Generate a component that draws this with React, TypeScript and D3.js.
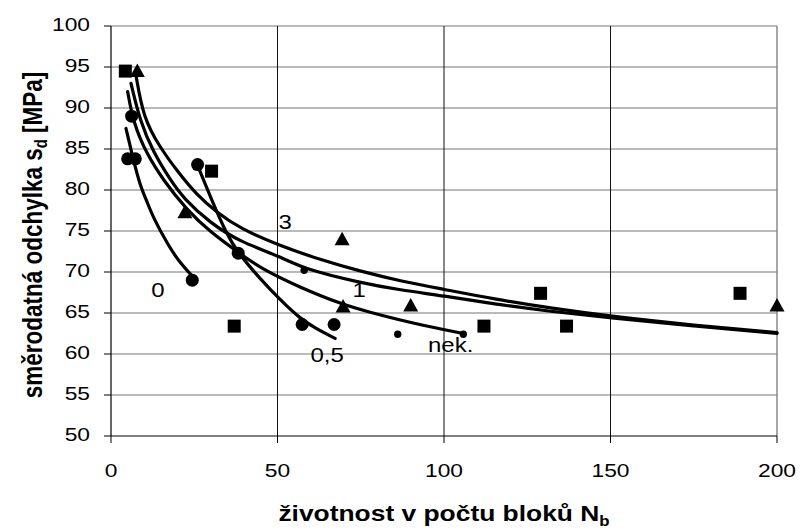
import React from "react";
import * as d3 from "d3";

// ---- data ----
const xTicks = [0, 50, 100, 150, 200];
const yTicks = [50, 55, 60, 65, 70, 75, 80, 85, 90, 95, 100];

const squares: [number, number][] = [
  [4.3, 94.5], [30.2, 82.3], [37, 63.4], [112, 63.4], [129, 67.4], [136.8, 63.4], [188.9, 67.4],
];
const triangles: [number, number][] = [
  [7.9, 94.5], [22.2, 77.3], [69.4, 74], [69.7, 65.8], [90, 65.9], [200, 65.9],
];
const bigCircles: [number, number][] = [
  [6.2, 89], [5, 83.8], [7.3, 83.8], [26, 83.1], [24.4, 69], [38.2, 72.3], [57.4, 63.6], [67, 63.6],
];
const smallCircles: [number, number][] = [
  [58, 70.2], [86.1, 62.4], [105.8, 62.4],
];

const curve3: [number, number][] = [
  [7.5, 94], [9.7, 88.8], [14.7, 85.2], [19.7, 82.4], [25.7, 79.4], [31.7, 77.3], [38.7, 75.3],
  [50.8, 73.2], [62.8, 71.5], [74.8, 70.1], [86.8, 68.9], [99.8, 67.9], [115, 66.7], [131.8, 65.6],
  [150, 64.6], [175, 63.5], [200, 62.6],
];
const curve1: [number, number][] = [
  [6, 93], [8.7, 88.4], [12.7, 84.6], [17.7, 81.3], [21.7, 79.0], [30, 75.9], [38.7, 73.7],
  [50.8, 71.9], [57.7, 70.4], [74.8, 68.7], [86.8, 67.8], [99.8, 67.1], [115, 66.1], [131.8, 65.2],
  [150, 64.4], [175, 63.4], [200, 62.5],
];
const curveNek: [number, number][] = [
  [5, 92], [6.7, 88.2], [10.7, 84.4], [15.7, 81.2], [22.7, 77.6], [30, 74.8], [38.2, 72.4],
  [44.7, 70.5], [56.8, 68.1], [69.8, 66.0], [76.8, 65.2], [90, 63.8], [105.8, 62.5],
];
const curve05: [number, number][] = [
  [26, 83], [29.7, 79.3], [34.7, 74.6], [38.2, 72.3], [44.7, 69.2], [50.8, 66.6], [56.8, 64.3],
  [62, 63], [67.3, 61.9],
];
const curve0: [number, number][] = [
  [4.5, 87.5], [6.7, 83.7], [8.7, 80.6], [10.7, 78.7], [12.7, 76.6], [17, 73.4], [20.5, 71.2], [24.2, 69.6],
];

const curveLabels = ["3", "1", "nek.", "0,5", "0"];
const curveLabelAt: [number, number][] = [
  [52.3, 76.1], [74.5, 67.8], [102, 61.1], [64.9, 59.9], [14.1, 67.8],
];

const xTitle = "životnost v počtu bloků N";
const xTitleSub = "b";
const yTitle = "směrodatná odchylka s";
const yTitleSub = "d";
const yTitleEnd = " [MPa]";

// ---- layout ----
const W = 800, H = 531;
const left = 111, right = 777, top = 26, bottom = 436;
const SX = 1.2;
const FONT = "'Liberation Sans', Arial, sans-serif";

export default function App() {
  const x = d3.scaleLinear().domain([0, 200]).range([left, right]);
  const y = d3.scaleLinear().domain([50, 100]).range([bottom, top]);
  const line = d3.line<[number, number]>()
    .x(d => x(d[0]))
    .y(d => y(d[1]))
    .curve(d3.curveBasis);
  const curves = [curve3, curve1, curveNek, curve05, curve0];
  const tri = (cx: number, cy: number) =>
    `M${cx},${cy - 7.5}L${cx + 7.5},${cy + 6}L${cx - 7.5},${cy + 6}Z`;

  return (
    <svg width={W} height={H} style={{ position: "absolute", left: 0, top: 0, background: "#fff" }}
      fontFamily={FONT}>
      <rect x={0} y={0} width={W} height={H} fill="#fff" />
      {/* horizontal gridlines */}
      {yTicks.filter(t => t > 50).map(t => (
        <line key={"hg" + t} x1={left} x2={right} y1={y(t)} y2={y(t)} stroke="#777" strokeWidth={1.2} />
      ))}
      {/* vertical gridlines */}
      {xTicks.filter(t => t > 0 && t < 200).map(t => (
        <line key={"vg" + t} x1={x(t)} x2={x(t)} y1={top} y2={bottom} stroke="#111" strokeWidth={1} />
      ))}
      <line x1={right} x2={right} y1={top} y2={bottom} stroke="#888" strokeWidth={1.5} />
      {/* axes */}
      <line x1={left} x2={left} y1={top} y2={bottom} stroke="#000" strokeWidth={1.2} />
      <line x1={left} x2={right} y1={bottom} y2={bottom} stroke="#000" strokeWidth={1.2} />
      {yTicks.map(t => (
        <line key={"yt" + t} x1={left - 7} x2={left} y1={y(t)} y2={y(t)} stroke="#000" strokeWidth={1} />
      ))}
      {xTicks.map(t => (
        <line key={"xt" + t} x1={x(t)} x2={x(t)} y1={bottom} y2={bottom + 7} stroke="#000" strokeWidth={1} />
      ))}
      {yTicks.map(t => (
        <text key={"yl" + t} transform={`translate(${left - 21},${y(t) + 5}) scale(${SX},1)`}
          textAnchor="end" fontSize={19} fill="#000">{t}</text>
      ))}
      {xTicks.map(t => (
        <text key={"xl" + t} transform={`translate(${x(t)},${bottom + 41}) scale(${SX},1)`}
          textAnchor="middle" fontSize={19} fill="#000">{t}</text>
      ))}
      {/* curves */}
      {curves.map((c, i) => (
        <path key={"c" + i} d={line(c) || ""} fill="none" stroke="#000" strokeWidth={3.2}
          strokeLinejoin="round" strokeLinecap="round" />
      ))}
      {/* markers */}
      {squares.map((d, i) => (
        <rect key={"s" + i} x={x(d[0]) - 6.5} y={y(d[1]) - 6.5} width={13} height={13} fill="#000" />
      ))}
      {triangles.map((d, i) => (
        <path key={"t" + i} d={tri(x(d[0]), y(d[1]))} fill="#000" />
      ))}
      {bigCircles.map((d, i) => (
        <circle key={"b" + i} cx={x(d[0])} cy={y(d[1])} r={6.5} fill="#000" />
      ))}
      {smallCircles.map((d, i) => (
        <circle key={"sc" + i} cx={x(d[0])} cy={y(d[1])} r={3.7} fill="#000" />
      ))}
      {/* curve labels */}
      {curveLabels.map((l, i) => (
        <text key={"cl" + i}
          transform={`translate(${x(curveLabelAt[i][0])},${y(curveLabelAt[i][1]) + 7}) scale(${SX},1)`}
          textAnchor="middle" fontSize={20} fill="#000">{l}</text>
      ))}
      {/* axis titles */}
      <text transform={`translate(${(left + right) / 2},${H - 10}) scale(${SX},1)`}
        textAnchor="middle" fontSize={22} fontWeight="bold" fill="#000">
        {xTitle}<tspan fontSize={14} dy={5}>{xTitleSub}</tspan>
      </text>
      <text transform={`translate(42,${(top + bottom) / 2 + 4}) scale(${SX},1) rotate(-90)`}
        textAnchor="middle" fontSize={22.5} fontWeight="bold" fill="#000">
        {yTitle}<tspan fontSize={15} dy={4}>{yTitleSub}</tspan><tspan dy={-4}>{yTitleEnd}</tspan>
      </text>
    </svg>
  );
}
